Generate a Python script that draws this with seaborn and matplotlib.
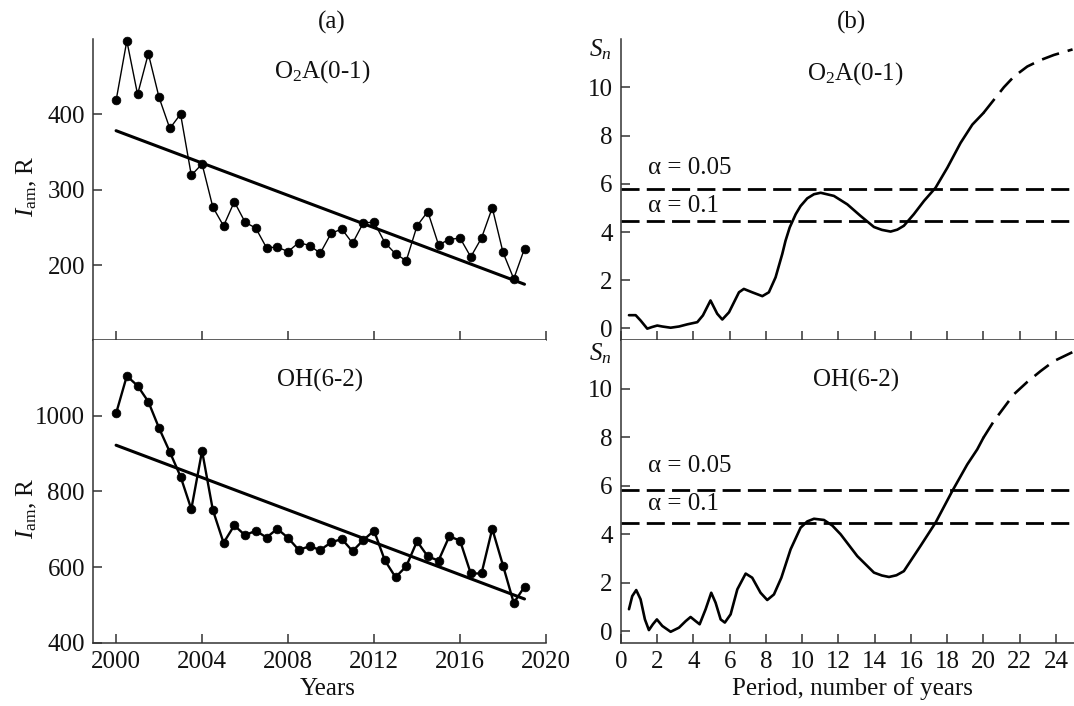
import numpy as np
import pandas as pd
import matplotlib
matplotlib.use("Agg")
import matplotlib.pyplot as plt
import seaborn as sns

# ---------------- data ----------------
years = [2000.0, 2000.5, 2001.0, 2001.5, 2002.0, 2002.5, 2003.0, 2003.5, 2004.0, 2004.5,
         2005.0, 2005.5, 2006.0, 2006.5, 2007.0, 2007.5, 2008.0, 2008.5, 2009.0, 2009.5,
         2010.0, 2010.5, 2011.0, 2011.5, 2012.0, 2012.5, 2013.0, 2013.5, 2014.0, 2014.5,
         2015.0, 2015.5, 2016.0, 2016.5, 2017.0, 2017.5, 2018.0, 2018.5, 2019.0]

o2a_intensity = [418, 497, 426, 480, 422, 381, 400, 319, 334, 277,
                 252, 284, 257, 249, 223, 224, 218, 230, 226, 216,
                 242, 248, 229, 256, 257, 230, 215, 206, 252, 271,
                 227, 234, 236, 211, 236, 276, 217, 182, 222]

oh_intensity = [1006, 1105, 1079, 1037, 967, 904, 839, 753, 907, 751,
                664, 710, 684, 696, 678, 701, 677, 645, 655, 645,
                665, 674, 642, 671, 696, 618, 573, 602, 668, 628,
                617, 681, 670, 583, 583, 701, 604, 505, 548]

o2a_period = [0.44, 0.81, 1.08, 1.45, 1.72, 2.0, 2.28, 2.74, 3.2, 3.66, 4.21, 4.52, 4.94,
              5.31, 5.59, 5.96, 6.51, 6.78, 7.24, 7.8, 8.16, 8.53, 8.9, 9.08, 9.31, 9.64,
              9.91, 10.28, 10.65, 11.02, 11.75, 12.49, 13.22, 13.96, 14.4, 14.88, 15.25,
              15.61, 16.16, 16.72, 17.36, 18.01, 18.74, 19.39, 20.0, 20.58, 21.13, 21.68,
              22.42, 23.16, 23.89, 24.92]
o2a_sn = [0.55, 0.55, 0.33, -0.01, 0.06, 0.12, 0.08, 0.03, 0.08, 0.17, 0.26, 0.54, 1.16,
          0.61, 0.37, 0.67, 1.5, 1.64, 1.5, 1.34, 1.5, 2.12, 3.09, 3.64, 4.19, 4.74,
          5.08, 5.4, 5.57, 5.63, 5.5, 5.15, 4.67, 4.21, 4.09, 4.02, 4.1,
          4.26, 4.74, 5.29, 5.84, 6.67, 7.7, 8.46, 8.94, 9.49, 10.01, 10.45,
          10.87, 11.14, 11.35, 11.58]

oh_period = [0.44, 0.62, 0.84, 1.08, 1.32, 1.54, 1.76, 1.98, 2.28, 2.74, 3.2, 3.57, 3.84,
             4.12, 4.34, 4.67, 4.98, 5.22, 5.5, 5.73, 6.05, 6.42, 6.88, 7.24, 7.7, 8.07,
             8.44, 8.85, 9.36, 9.91, 10.28, 10.65, 11.2, 11.66, 12.12, 13.04, 13.96, 14.4,
             14.79, 15.2, 15.61, 16.53, 17.36, 18.28, 19.11, 19.66, 20.0, 20.58, 21.13,
             21.68, 22.42, 23.16, 23.89, 24.92]
oh_sn = [0.9, 1.44, 1.69, 1.31, 0.48, 0.04, 0.28, 0.48, 0.21, -0.03, 0.14, 0.41, 0.58,
         0.41, 0.28, 0.9, 1.58, 1.17, 0.48, 0.35, 0.69, 1.72, 2.37, 2.2, 1.58, 1.28,
         1.51, 2.2, 3.37, 4.26, 4.52, 4.63, 4.58, 4.35, 3.99, 3.09, 2.41, 2.29,
         2.23, 2.3, 2.47, 3.51, 4.47, 5.77, 6.87, 7.49, 7.97, 8.66, 9.21,
         9.76, 10.27, 10.72, 11.13, 11.5]

extrapolation_start = 20.0          # curves are dashed beyond this period
alpha_levels = [5.8, 4.45]
alpha_labels = ["α = 0.05", "α = 0.1"]

left_xticks = [2000, 2004, 2008, 2012, 2016, 2020]
o2a_yticks = [200, 300, 400]
oh_yticks = [400, 600, 800, 1000]
sn_xticks = list(range(0, 25, 2))
sn_yticks = [0, 2, 4, 6, 8, 10]

# ---------------- style ----------------
sns.set_theme(style="ticks")
plt.rcParams.update({
    "font.family": ["Liberation Serif", "DejaVu Serif"],
    "mathtext.fontset": "custom",
    "mathtext.rm": "Liberation Serif",
    "mathtext.it": "Liberation Serif:italic",
    "mathtext.bf": "Liberation Serif:bold",
    "axes.edgecolor": "#333333",
    "axes.linewidth": 1.1,
    "text.color": "#111111",
})

FS = 18
W, H = 1074, 706
fig = plt.figure(figsize=(W / 100, H / 100), dpi=100)

def frac_x(px):
    return px / W

def frac_y(py):
    return 1 - py / H

ax_lt = fig.add_axes([frac_x(93.3), frac_y(340), 452.7 / W, 300.7 / H])
ax_lb = fig.add_axes([frac_x(93.3), frac_y(642.7), 452.7 / W, 302.7 / H])
ax_rt = fig.add_axes([frac_x(621), frac_y(340), 453 / W, 300.7 / H])
ax_rb = fig.add_axes([frac_x(621), frac_y(642.7), 453 / W, 302.7 / H])

def style_axes(ax, show_xlabels):
    for s in ("top", "right"):
        ax.spines[s].set_visible(False)
    ax.tick_params(axis="both", direction="in", length=6.5, width=1.1,
                   colors="#333333", labelcolor="#111111", labelsize=FS)
    ax.tick_params(axis="x", pad=6, labelbottom=show_xlabels)
    ax.tick_params(axis="y", pad=6)
    ax.set_xlabel("")
    ax.set_ylabel("")

# ---------------- left panels ----------------
df_left = pd.DataFrame({"year": years, "o2a": o2a_intensity, "oh": oh_intensity})

for ax, col, lw_data, yt, ylim in [
    (ax_lt, "o2a", 1.0, o2a_yticks, (101, 499)),
    (ax_lb, "oh", 1.7, oh_yticks, (400, 1200)),
]:
    sns.regplot(data=df_left, x="year", y=col, ax=ax, scatter=False, ci=None,
                truncate=True, line_kws=dict(color="black", lw=2.2))
    sns.lineplot(data=df_left, x="year", y=col, ax=ax, color="black", lw=lw_data,
                 marker="o", markersize=6.3, markeredgecolor="black",
                 markeredgewidth=0.5, estimator=None, sort=False, legend=False,
                 clip_on=False)
    ax.set_xlim(1998.94, 2020)
    ax.set_ylim(*ylim)
    ax.set_xticks(left_xticks)
    ax.set_yticks(yt)

style_axes(ax_lt, False)
style_axes(ax_lb, True)
ax_lt.text(0.505, 0.893, r"O$_2$A(0-1)", transform=ax_lt.transAxes,
           ha="center", va="center", fontsize=FS)
ax_lb.text(0.50, 0.865, "OH(6-2)", transform=ax_lb.transAxes,
           ha="center", va="center", fontsize=FS)

# ---------------- right panels ----------------
for ax, per, sn, label, lab_y, txt_y in [
    (ax_rt, o2a_period, o2a_sn, r"O$_2$A(0-1)", 10.58, (6.65, 5.08)),
    (ax_rb, oh_period, oh_sn, "OH(6-2)", 10.34, (6.79, 5.22)),
]:
    df = pd.DataFrame({"period": per, "sn": sn})
    solid = df[df["period"] <= extrapolation_start]
    dashed = df[df["period"] >= extrapolation_start]
    sns.lineplot(data=solid, x="period", y="sn", ax=ax, color="black", lw=1.9,
                 estimator=None, sort=False, legend=False)
    ax.lines[-1].set_solid_joinstyle("round")
    sns.lineplot(data=dashed, x="period", y="sn", ax=ax, color="black", lw=1.9,
                 estimator=None, sort=False, legend=False, dashes=False)
    ax.lines[-1].set_dashes((6.8, 3.4))
    for lvl in alpha_levels:
        ax.axhline(lvl, color="black", lw=2.0, dashes=(6.5, 2.6), solid_capstyle="butt")
    for txt, ty in zip(alpha_labels, txt_y):
        ax.text(1.47, ty, txt, ha="left", va="center", fontsize=FS)
    ax.text(12.95, lab_y, label, ha="center", va="center", fontsize=FS)
    ax.set_xlim(0, 25)
    ax.set_ylim(-0.48, 12.0)
    ax.set_xticks(sn_xticks)
    ax.set_yticks(sn_yticks)

style_axes(ax_rt, False)
style_axes(ax_rb, True)

# ---------------- figure-level labels ----------------
fig.text(frac_x(332), frac_y(22), "(a)", ha="center", va="center", fontsize=FS)
fig.text(frac_x(852), frac_y(22), "(b)", ha="center", va="center", fontsize=FS)
fig.text(frac_x(328), frac_y(689), "Years", ha="center", va="center", fontsize=FS)
fig.text(frac_x(852), frac_y(689), "Period, number of years", ha="center",
         va="center", fontsize=FS)
fig.text(frac_x(27), frac_y(186), r"$I_{\rm am}$, R", rotation=90,
         ha="center", va="center", fontsize=FS)
fig.text(frac_x(27), frac_y(508), r"$I_{\rm am}$, R", rotation=90,
         ha="center", va="center", fontsize=FS)
fig.text(frac_x(600), frac_y(50), r"$S_n$", ha="center", va="center", fontsize=FS)
fig.text(frac_x(600), frac_y(354), r"$S_n$", ha="center", va="center", fontsize=FS)

fig.savefig("out.png", dpi=100)
